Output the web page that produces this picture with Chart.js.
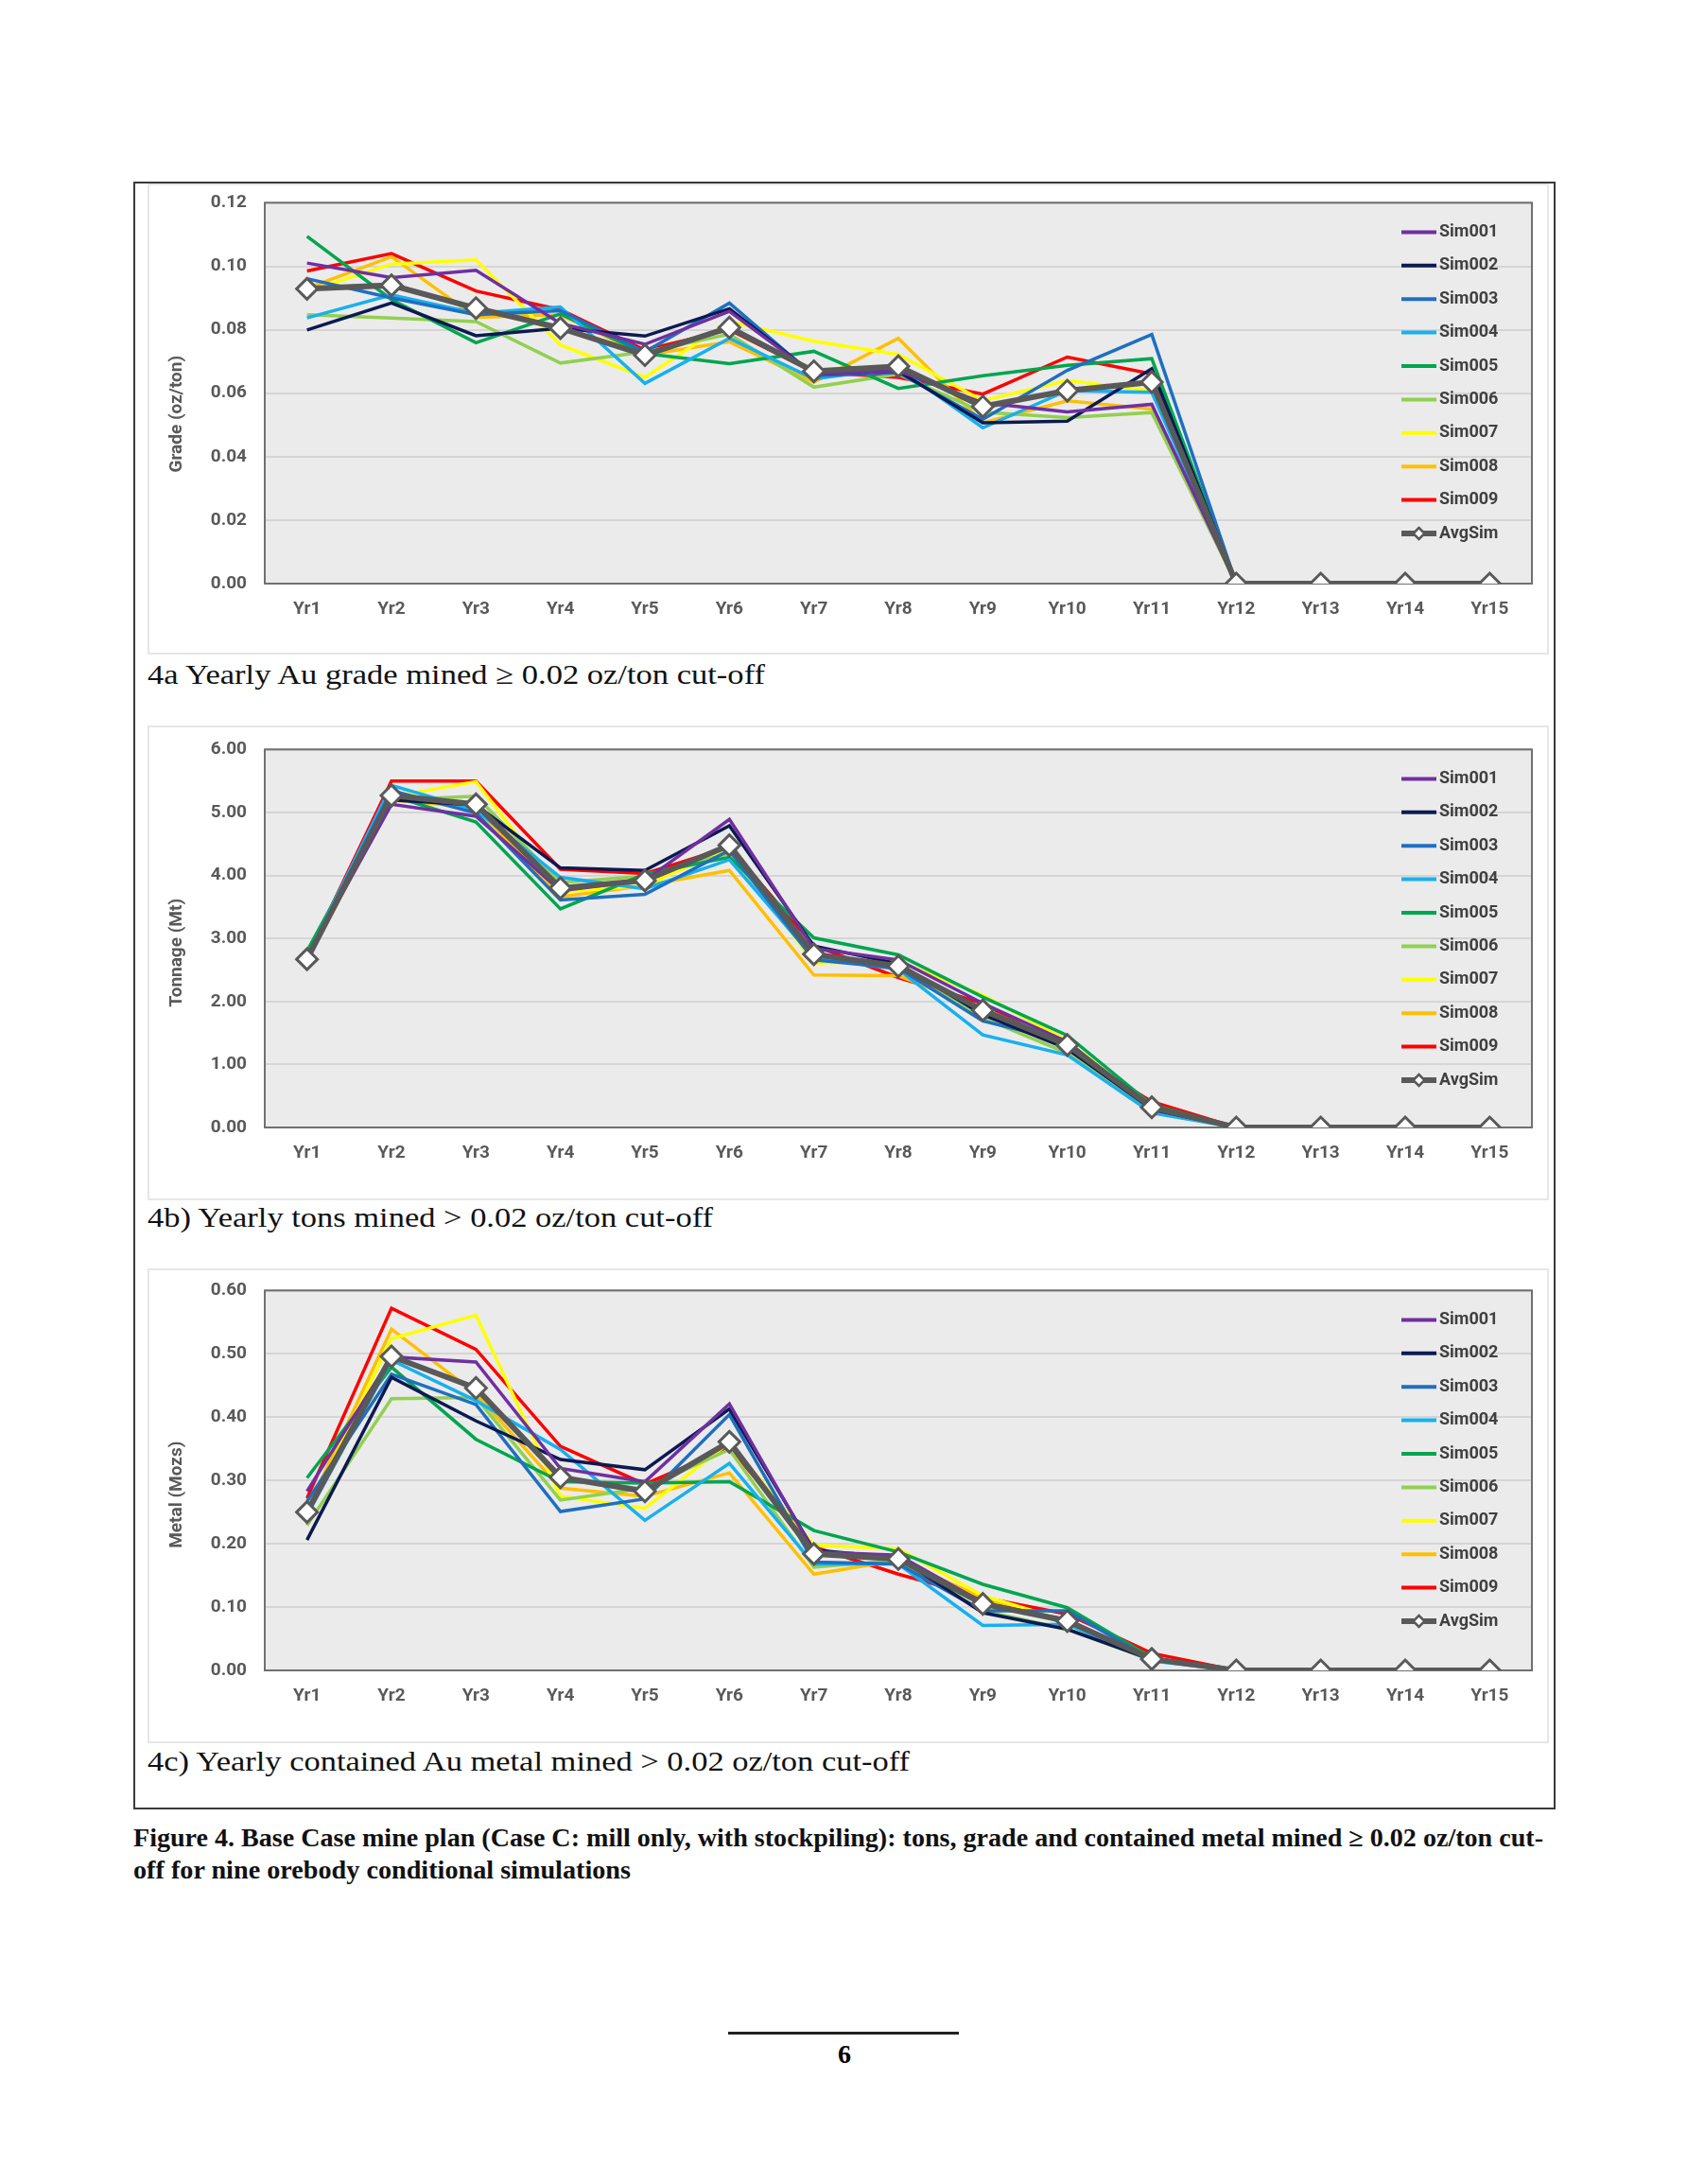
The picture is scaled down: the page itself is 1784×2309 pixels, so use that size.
<!DOCTYPE html>
<html>
<head>
<meta charset="utf-8">
<script src="https://cdn.jsdelivr.net/npm/chart.js@4.4.0/dist/chart.umd.min.js"></script>
<style>
  body { margin: 0; width: 1784px; height: 2309px; background: #fff; position: relative; overflow: hidden; font-family: "Liberation Serif", "Times New Roman", serif; }
  .box { position: absolute; left: 141px; top: 192px; width: 1500px; height: 1717px; border: 2px solid #3a3a3a; }
  .panel { position: absolute; left: 156px; width: 1478px; border: 2px solid #e6e6e6; background: #fff; }
  canvas { position: absolute; }
  .cap { position: absolute; left: 156px; font-size: 30px; line-height: 30px; white-space: nowrap; transform-origin: left center; color: #111; }
  .fig { position: absolute; left: 141px; font-size: 27px; line-height: 27px; font-weight: bold; white-space: nowrap; transform-origin: left center; color: #111; }
  .rule { position: absolute; left: 770px; top: 2148px; width: 244px; height: 3px; background: #222; }
  .pnum { position: absolute; left: 870px; width: 46px; top: 2156px; text-align: center; font-size: 28px; font-weight: bold; }
</style>
</head>
<body>
<div class="box"></div>
<div class="panel" style="top:194px;height:494px"></div>
<div class="panel" style="top:767px;height:498px"></div>
<div class="panel" style="top:1341px;height:498px"></div>

<canvas id="gradeChart" width="1480" height="493" style="left:160px;top:184px"></canvas>
<canvas id="tonsChart" width="1480" height="490" style="left:160px;top:762px"></canvas>
<canvas id="metalChart" width="1480" height="492" style="left:160px;top:1334px"></canvas>

<div class="cap fit" data-w="653" style="top:698px">4a Yearly Au grade mined ≥ 0.02 oz/ton cut-off</div>
<div class="cap fit" data-w="598" style="top:1272px">4b) Yearly tons mined &gt; 0.02 oz/ton cut-off</div>
<div class="cap fit" data-w="806" style="top:1847px">4c) Yearly contained Au metal mined &gt; 0.02 oz/ton cut-off</div>

<div class="fig fit" data-w="1491" style="top:1930px">Figure 4. Base Case mine plan (Case C: mill only, with stockpiling): tons, grade and contained metal mined ≥ 0.02 oz/ton cut-</div>
<div class="fig fit" data-w="526" style="top:1964px">off for nine orebody conditional simulations</div>

<div class="rule"></div>
<div class="pnum">6</div>

<script>
const years = ['Yr1', 'Yr2', 'Yr3', 'Yr4', 'Yr5', 'Yr6', 'Yr7', 'Yr8', 'Yr9', 'Yr10', 'Yr11', 'Yr12', 'Yr13', 'Yr14', 'Yr15'];
const simNames = ['Sim001', 'Sim002', 'Sim003', 'Sim004', 'Sim005', 'Sim006', 'Sim007', 'Sim008', 'Sim009'];
const simColors = ['#7030a0', '#0c1a52', '#1f6fc0', '#18b0ef', '#00a550', '#92d050', '#ffff00', '#ffc000', '#ff0000'];

// 4a grade (oz/ton), one row per simulation
const gradeSims = [
  [0.101, 0.0964, 0.0987, 0.082, 0.0754, 0.0858, 0.066, 0.067, 0.057, 0.0541, 0.0565, 0, 0, 0, 0],
  [0.0799, 0.0884, 0.0781, 0.0805, 0.078, 0.0866, 0.066, 0.067, 0.0507, 0.0512, 0.0677, 0, 0, 0, 0],
  [0.0961, 0.090, 0.0847, 0.086, 0.073, 0.0884, 0.0655, 0.0665, 0.0518, 0.0672, 0.0785, 0, 0, 0, 0],
  [0.0837, 0.091, 0.0852, 0.0872, 0.0631, 0.0773, 0.0645, 0.068, 0.0491, 0.0608, 0.0603, 0, 0, 0, 0],
  [0.1094, 0.0895, 0.0759, 0.085, 0.0725, 0.0693, 0.0732, 0.0615, 0.0655, 0.0688, 0.0709, 0, 0, 0, 0],
  [0.0847, 0.0837, 0.0826, 0.0695, 0.073, 0.0786, 0.0619, 0.066, 0.054, 0.0523, 0.0539, 0, 0, 0, 0],
  [0.092, 0.1007, 0.102, 0.0752, 0.065, 0.0826, 0.0764, 0.0722, 0.0576, 0.064, 0.0608, 0, 0, 0, 0],
  [0.093, 0.103, 0.0839, 0.0847, 0.072, 0.0762, 0.0635, 0.0773, 0.0507, 0.0576, 0.055, 0, 0, 0, 0],
  [0.0985, 0.104, 0.0922, 0.0863, 0.0736, 0.080, 0.0667, 0.065, 0.0597, 0.0714, 0.0661, 0, 0, 0, 0]
];
const gradeAvg = [0.0929, 0.094, 0.0868, 0.0805, 0.072, 0.0807, 0.0669, 0.0685, 0.0558, 0.0608, 0.0635, 0, 0, 0, 0];

// 4b tonnage (Mt)
const tonsSims = [
  [2.70, 5.13, 4.94, 3.76, 3.92, 4.89, 2.84, 2.66, 1.97, 1.36, 0.30, 0, 0, 0, 0],
  [2.70, 5.20, 5.12, 4.12, 4.08, 4.79, 2.88, 2.60, 1.79, 1.25, 0.29, 0, 0, 0, 0],
  [2.70, 5.35, 4.99, 3.61, 3.70, 4.40, 2.66, 2.53, 1.69, 1.36, 0.28, 0, 0, 0, 0],
  [2.70, 5.43, 5.04, 3.97, 3.79, 4.25, 2.69, 2.51, 1.47, 1.15, 0.23, 0, 0, 0, 0],
  [2.80, 5.27, 4.85, 3.47, 4.02, 4.29, 3.01, 2.74, 2.07, 1.46, 0.36, 0, 0, 0, 0],
  [2.72, 5.20, 5.26, 3.89, 3.99, 4.35, 2.71, 2.61, 1.74, 1.18, 0.27, 0, 0, 0, 0],
  [2.70, 5.25, 5.49, 3.74, 3.84, 4.43, 2.61, 2.64, 2.10, 1.38, 0.30, 0, 0, 0, 0],
  [2.65, 5.20, 5.08, 3.66, 3.84, 4.08, 2.42, 2.41, 1.89, 1.31, 0.30, 0, 0, 0, 0],
  [2.70, 5.50, 5.50, 4.10, 4.03, 4.45, 2.89, 2.38, 1.97, 1.23, 0.41, 0, 0, 0, 0]
];
const tonsAvg = [2.67, 5.27, 5.13, 3.80, 3.92, 4.48, 2.75, 2.56, 1.86, 1.31, 0.32, 0, 0, 0, 0];

// 4c contained metal (Mozs)
const metalSims = [
  [0.283, 0.495, 0.487, 0.319, 0.298, 0.421, 0.187, 0.182, 0.107, 0.080, 0.017, 0, 0, 0, 0],
  [0.206, 0.463, 0.394, 0.333, 0.317, 0.413, 0.190, 0.178, 0.091, 0.065, 0.017, 0, 0, 0, 0],
  [0.267, 0.468, 0.420, 0.251, 0.271, 0.404, 0.171, 0.168, 0.094, 0.094, 0.017, 0, 0, 0, 0],
  [0.245, 0.490, 0.426, 0.349, 0.237, 0.327, 0.168, 0.168, 0.071, 0.073, 0.015, 0, 0, 0, 0],
  [0.304, 0.479, 0.365, 0.298, 0.296, 0.298, 0.221, 0.187, 0.136, 0.099, 0.020, 0, 0, 0, 0],
  [0.229, 0.429, 0.431, 0.269, 0.288, 0.349, 0.163, 0.174, 0.094, 0.065, 0.016, 0, 0, 0, 0],
  [0.245, 0.524, 0.561, 0.275, 0.256, 0.360, 0.198, 0.192, 0.118, 0.078, 0.018, 0, 0, 0, 0],
  [0.253, 0.539, 0.437, 0.288, 0.275, 0.312, 0.152, 0.174, 0.115, 0.073, 0.017, 0, 0, 0, 0],
  [0.272, 0.572, 0.507, 0.354, 0.294, 0.352, 0.195, 0.152, 0.115, 0.089, 0.027, 0, 0, 0, 0]
];
const metalAvg = [0.250, 0.496, 0.446, 0.305, 0.283, 0.361, 0.184, 0.176, 0.105, 0.078, 0.018, 0, 0, 0, 0];

const AVG_COLOR = '#595959';
const TICK_FONT = { family: 'Roboto', size: 19, weight: 'bold' };

// grey plot background + frame, y title, legend drawn inside the plot area
const plotFrame = {
  id: 'plotFrame',
  beforeDraw(chart) {
    const { ctx, chartArea: a } = chart;
    ctx.save();
    ctx.fillStyle = '#ebebeb';
    ctx.fillRect(a.left, a.top, a.width, a.height);
    ctx.restore();
  },
  beforeDatasetsDraw(chart, args, opts) {
    const { ctx, chartArea: a } = chart;
    ctx.save();
    ctx.strokeStyle = '#707070';
    ctx.lineWidth = 2;
    ctx.strokeRect(a.left, a.top, a.width, a.height);
    // axis title, sitting a little below the middle as in the original
    ctx.translate(27, (a.top + a.bottom) / 2 + opts.titleShift);
    ctx.rotate(-Math.PI / 2);
    ctx.font = 'bold 19px Roboto';
    ctx.fillStyle = '#595959';
    ctx.textAlign = 'center';
    ctx.textBaseline = 'middle';
    ctx.fillText(opts.title, 0, 0);
    ctx.restore();
  },
  afterDatasetsDraw(chart) {
    const { ctx, chartArea: a } = chart;
    const x0 = a.right - 138, x1 = a.right - 101;
    ctx.save();
    ctx.font = 'bold 18px Roboto';
    ctx.textBaseline = 'middle';
    chart.data.datasets.forEach((ds, i) => {
      const y = a.top + 31 + i * 35.4;
      const isAvg = ds.label === 'AvgSim';
      ctx.strokeStyle = ds.borderColor;
      ctx.lineWidth = isAvg ? 6 : 4;
      ctx.beginPath();
      ctx.moveTo(x0, y);
      ctx.lineTo(x1, y);
      ctx.stroke();
      if (isAvg) {
        const cx = (x0 + x1) / 2, r = 6;
        ctx.beginPath();
        ctx.moveTo(cx, y - r); ctx.lineTo(cx + r, y); ctx.lineTo(cx, y + r); ctx.lineTo(cx - r, y); ctx.closePath();
        ctx.fillStyle = '#fff';
        ctx.fill();
        ctx.lineWidth = 2.5;
        ctx.stroke();
      }
      ctx.fillStyle = '#404040';
      ctx.fillText(ds.label, x1 + 3, y);
    });
    ctx.restore();
  }
};

function buildDatasets(simRows, avgRow) {
  const sets = simRows.map((row, i) => ({
    label: simNames[i],
    data: row,
    borderColor: simColors[i],
    backgroundColor: simColors[i],
    borderWidth: 3.5,
    pointRadius: 0,
    tension: 0,
    order: 1
  }));
  sets.push({
    label: 'AvgSim',
    data: avgRow,
    borderColor: AVG_COLOR,
    backgroundColor: '#ffffff',
    borderWidth: 6,
    pointStyle: 'rectRot',
    pointRadius: 11,
    pointBorderWidth: 3,
    pointBorderColor: AVG_COLOR,
    pointBackgroundColor: '#ffffff',
    tension: 0,
    order: 0
  });
  return sets;
}

function makeChart(id, simRows, avgRow, yMax, yStep, yTitle, titleShift) {
  const ctx = document.getElementById(id).getContext('2d');
  return new Chart(ctx, {
    type: 'line',
    data: { labels: years, datasets: buildDatasets(simRows, avgRow) },
    options: {
      responsive: false,
      animation: false,
      devicePixelRatio: 1,
      layout: { padding: { top: 12, right: 20, left: 0, bottom: 0 } },
      plugins: {
        legend: { display: false },
        tooltip: { enabled: false },
        plotFrame: { title: yTitle, titleShift: titleShift }
      },
      scales: {
        x: {
          offset: true,
          grid: { display: false, drawTicks: false },
          border: { display: false },
          ticks: { color: '#595959', font: TICK_FONT, padding: 16, maxRotation: 0, autoSkip: false },
          afterFit(scale) { scale.height = 60; }
        },
        y: {
          min: 0,
          max: yMax,
          grid: { color: '#d5d5d5', lineWidth: 2, drawTicks: false },
          border: { display: false },
          ticks: {
            stepSize: yStep,
            color: '#595959',
            font: TICK_FONT,
            padding: 19,
            callback: v => Number(v).toFixed(2)
          },
          afterFit(scale) { scale.width = 120; }
        }
      }
    },
    plugins: [plotFrame]
  });
}

makeChart('gradeChart', gradeSims, gradeAvg, 0.12, 0.02, 'Grade (oz/ton)', 22);
makeChart('tonsChart', tonsSims, tonsAvg, 6, 1, 'Tonnage (Mt)', 15);
makeChart('metalChart', metalSims, metalAvg, 0.6, 0.1, 'Metal (Mozs)', 15);

// stretch caption lines to the widths they have in the original page
document.querySelectorAll('.fit').forEach(el => {
  const w = el.getBoundingClientRect().width;
  el.style.transform = 'scaleX(' + (Number(el.dataset.w) / w) + ')';
});
</script>
</body>
</html>
